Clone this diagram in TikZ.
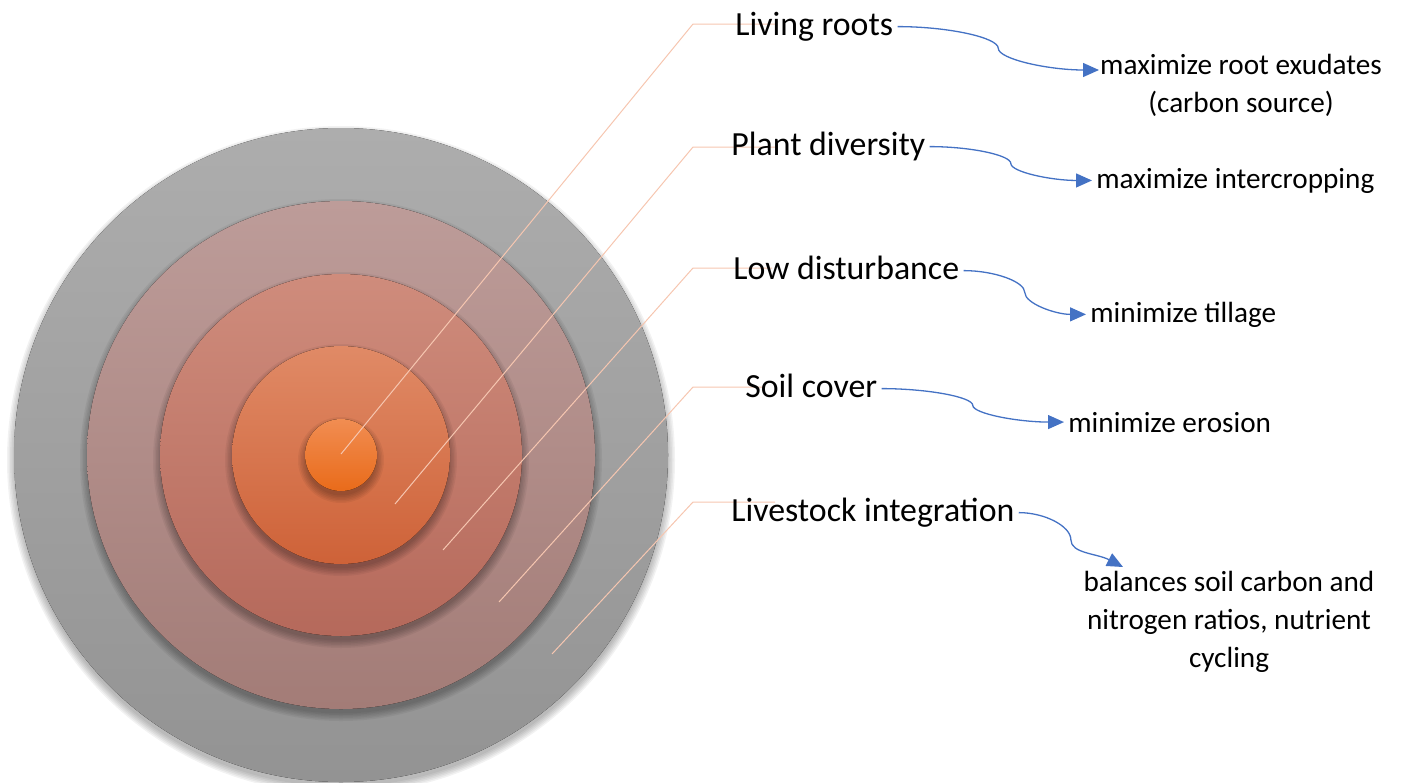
\documentclass[tikz,border=0pt]{standalone}
\usepackage{fontspec}
\setmainfont{Carlito}
\usetikzlibrary{positioning,calc,arrows.meta}
\definecolor{ringAtop}{HTML}{ADADAD}
\definecolor{ringAbot}{HTML}{939393}
\definecolor{ringBtop}{HTML}{BD9C99}
\definecolor{ringBbot}{HTML}{A37C77}
\definecolor{ringCtop}{HTML}{CF8C7C}
\definecolor{ringCbot}{HTML}{B5695B}
\definecolor{ringDtop}{HTML}{E08A66}
\definecolor{ringDbot}{HTML}{CE6238}
\definecolor{ringEtop}{HTML}{F18D52}
\definecolor{ringEbot}{HTML}{E96B1A}
\definecolor{leadpeach}{HTML}{F6C6B0}
\definecolor{flowblue}{HTML}{4472C4}

\begin{document}
\begin{tikzpicture}[x=0.5pt, y=-0.5pt,
  ringlabel/.style={font=\fontsize{16.9}{20}\selectfont, anchor=base west, inner sep=2pt, text height=11.8pt, text depth=3.4pt},
  practice/.style={font=\fontsize{14.6}{19}\selectfont, align=center, inner sep=2pt},
  leader/.style={draw=leadpeach, line width=0.5pt},
  flow/.style={draw=flowblue, line width=0.65pt, -{Triangle[length=8pt, width=7pt]}},
]
\useasboundingbox (0,0) rectangle (1402,782);

% rings, outside in, each with a soft drop shadow
\foreach \r/\ct/\cb in {327/ringAtop/ringAbot, 254/ringBtop/ringBbot, 181/ringCtop/ringCbot, 109/ringDtop/ringDbot, 36/ringEtop/ringEbot} {
  \foreach \k in {1,...,6}
    \fill[black, opacity=0.05] (341,460) circle[radius=\r-2+\k*1.5];
  \fill[top color=\ct, bottom color=\cb] (341,455) circle[radius=\r];
}

% leader lines from the rings
\foreach \n/\px/\py/\ky/\len in {lr/341/454/24/84, pd/395/504/147/82, ld/443/550/268/79, sc/499/602/387/72, li/552/654/502/82} {
  \coordinate (\n-pin) at (\px,\py);
  \coordinate (\n-knee) at (693,\ky);
  \draw[leader] (\n-pin) -- (\n-knee) -- ++(\len,0);
}

\node[ringlabel] (lr) at (731,35) {Living roots};
\node[ringlabel] (pd) at (727,155) {Plant diversity};
\node[ringlabel] (ld) at (729,279) {Low disturbance};
\node[ringlabel] (sc) at (741,397) {Soil cover};
\node[ringlabel] (li) at (727,521) {Livestock integration};

\node[practice] (exud) at (1241,85) {maximize root exudates\\(carbon source)};
\node[practice, anchor=base west] (inter) at (1092,188) {maximize intercropping};
\node[practice, anchor=base west] (till) at (1086,322) {minimize tillage};
\node[practice, anchor=base west] (eros) at (1064,432) {minimize erosion};
\node[practice] (bal) at (1229,622) {balances soil carbon and\\nitrogen ratios, nutrient\\cycling};
\coordinate (exud-in) at (1099,70);
\coordinate (bal-in) at (1123,567);

% curved connectors
\foreach \a/\b in {lr/exud-in, pd/inter.west, ld/till.west, sc/eros.west} {
  \coordinate (s) at (\a.east);
  \coordinate (t) at (\b);
  \coordinate (m) at ($(s)!0.5!(t)$);
  \coordinate (h1) at ($(s)!0.5!(m)$);
  \coordinate (h2) at ($(m)!0.5!(t)$);
  \draw[flow] (s) .. controls (h1 |- s) and (m |- h1) .. (m) .. controls (m |- h2) and (h2 |- t) .. (t);
}
\coordinate (m) at ($(li.east)!0.5!(bal-in)$);
\coordinate (h1) at ($(li.east)!0.5!(m)$);
\coordinate (h2) at ($(m)!0.5!(bal-in)$);
\draw[flow] (li.east) .. controls (h1 |- li.east) and (m |- h1) .. (m) .. controls (m |- h2) and (h2) .. (bal-in);
\end{tikzpicture}
\end{document}
